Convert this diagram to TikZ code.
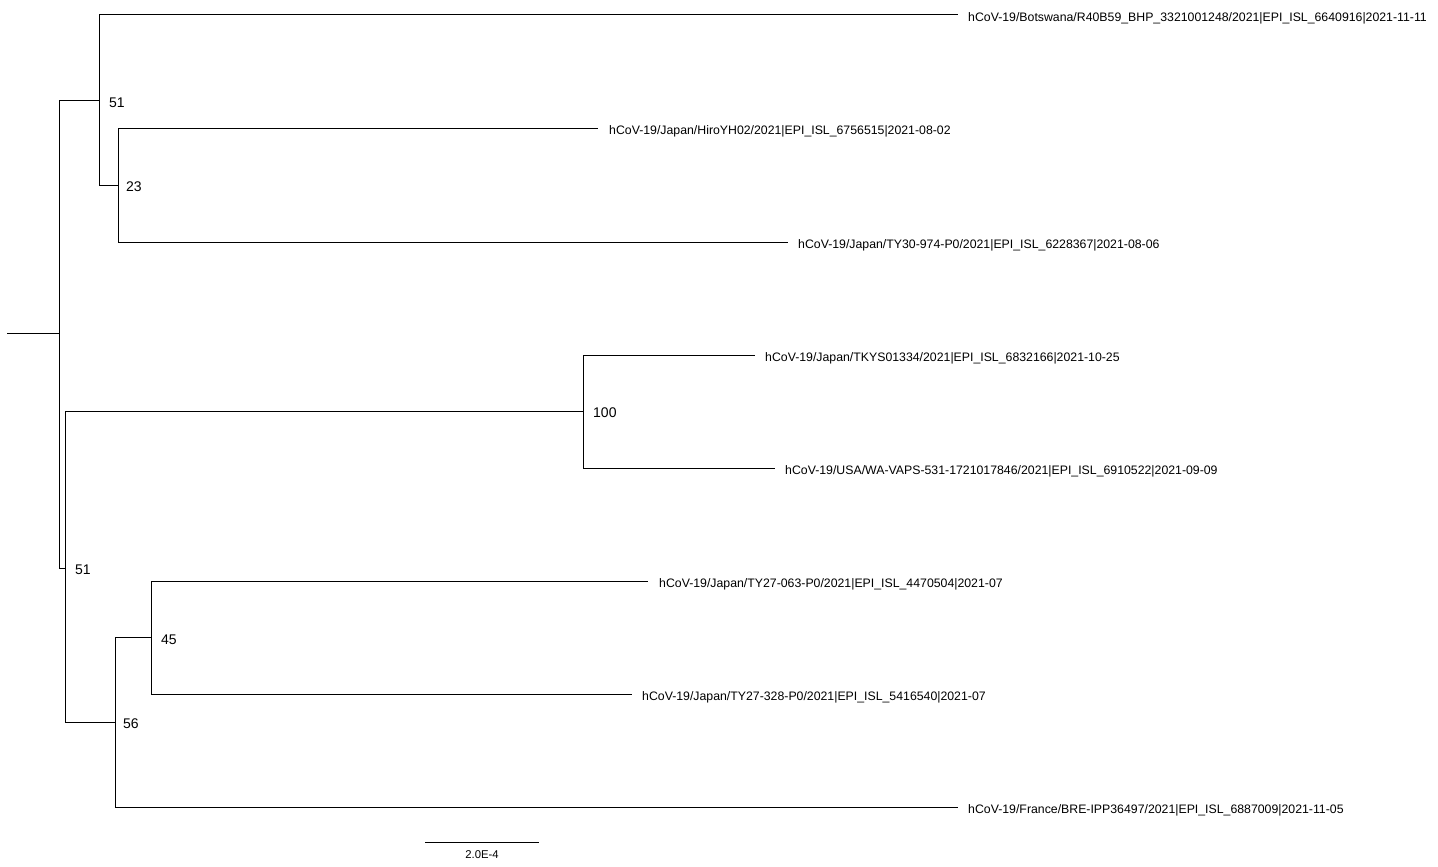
\documentclass[tikz,border=0pt]{standalone}
\usepackage{fontspec}
\setmainfont{Liberation Sans}
\begin{document}
\begin{tikzpicture}[x=1pt,y=-1pt,
  tree/.style={draw=black, line width=1pt},
  leaf/.style={anchor=west, inner sep=0pt, font=\fontsize{12.3}{14}\selectfont},
  boot/.style={anchor=west, inner sep=0pt, font=\fontsize{14}{16}\selectfont},
  scaletxt/.style={inner sep=0pt, font=\fontsize{11.3}{13}\selectfont}]
\useasboundingbox (0,0) rectangle (1438,867);
% internal nodes
\coordinate (r0) at (7,333);
\coordinate (n0) at (59,333);
\coordinate (nA) at (99,100);
\coordinate (nB) at (118,185);
\coordinate (nC) at (65,568);
\coordinate (nD) at (583,411);
\coordinate (nE) at (115,722);
\coordinate (nF) at (151,637);
% leaf tips
\coordinate (t1) at (958,15);
\coordinate (t2) at (598,128);
\coordinate (t3) at (788,242);
\coordinate (t4) at (755,355);
\coordinate (t5) at (775,468);
\coordinate (t6) at (648,581);
\coordinate (t7) at (632,694);
\coordinate (t8) at (958,807);
% leaf labels
\node[leaf] (L1) at (968,18) {hCoV-19/Botswana/R40B59\_BHP\_3321001248/2021|EPI\_ISL\_6640916|2021-11-11};
\node[leaf] (L2) at (609,131) {hCoV-19/Japan/HiroYH02/2021|EPI\_ISL\_6756515|2021-08-02};
\node[leaf] (L3) at (798,245) {hCoV-19/Japan/TY30-974-P0/2021|EPI\_ISL\_6228367|2021-08-06};
\node[leaf] (L4) at (765,358) {hCoV-19/Japan/TKYS01334/2021|EPI\_ISL\_6832166|2021-10-25};
\node[leaf] (L5) at (785,471) {hCoV-19/USA/WA-VAPS-531-1721017846/2021|EPI\_ISL\_6910522|2021-09-09};
\node[leaf] (L6) at (659,584) {hCoV-19/Japan/TY27-063-P0/2021|EPI\_ISL\_4470504|2021-07};
\node[leaf] (L7) at (642,697) {hCoV-19/Japan/TY27-328-P0/2021|EPI\_ISL\_5416540|2021-07};
\node[leaf] (L8) at (968,810) {hCoV-19/France/BRE-IPP36497/2021|EPI\_ISL\_6887009|2021-11-05};
% bootstrap labels
\node[boot] (bA) at (109,102.5) {51};
\node[boot] (bB) at (126,187) {23};
\node[boot] (bC) at (75,570) {51};
\node[boot] (bD) at (593,413) {100};
\node[boot] (bE) at (123,724) {56};
\node[boot] (bF) at (161,639.5) {45};
% branches
\draw[tree] (r0) -- (n0);
\draw[tree] (n0) |- (nA);
\draw[tree] (n0) |- (nC);
\draw[tree] (nA) |- (t1);
\draw[tree] (nA) |- (nB);
\draw[tree] (nB) |- (t2);
\draw[tree] (nB) |- (t3);
\draw[tree] (nC) |- (nD);
\draw[tree] (nD) |- (t4);
\draw[tree] (nD) |- (t5);
\draw[tree] (nC) |- (nE);
\draw[tree] (nE) |- (nF);
\draw[tree] (nF) |- (t6);
\draw[tree] (nF) |- (t7);
\draw[tree] (nE) |- (t8);
% scale bar
\coordinate (s1) at (425,842);
\coordinate (s2) at (539,842);
\draw[tree] (s1) -- (s2);
\node[scaletxt] (st) at (482,854.5) {2.0E-4};
\end{tikzpicture}
\end{document}
